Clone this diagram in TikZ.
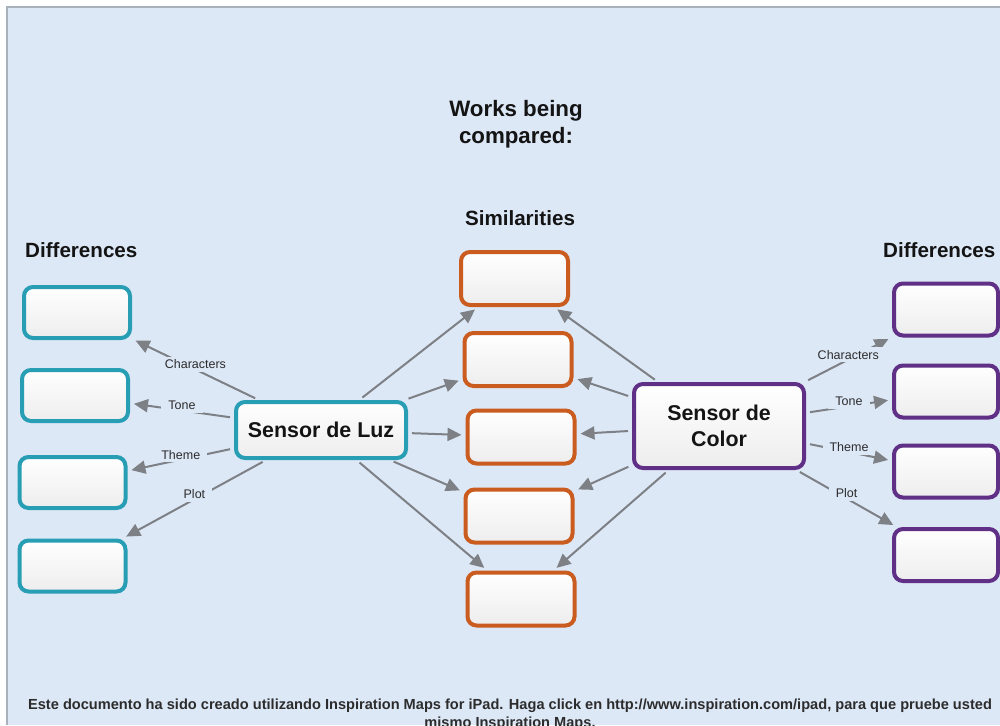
\documentclass[tikz,border=0pt]{standalone}
\usepackage{fontspec}
\setmainfont{Liberation Sans}
\usetikzlibrary{arrows.meta,shadows}

\definecolor{pagebg}{RGB}{221,232,247}
\definecolor{frameline}{RGB}{168,176,186}
\definecolor{luzteal}{RGB}{40,158,180}
\definecolor{simorange}{RGB}{203,92,32}
\definecolor{colpurple}{RGB}{96,48,134}
\definecolor{linkgray}{RGB}{125,128,132}
\definecolor{inkblack}{RGB}{20,20,20}

\begin{document}
\begin{tikzpicture}[x=1pt,y=-1pt,
  card/.style={draw, line width=4pt, rounded corners=9pt, inner sep=0pt,
    top color=white, bottom color=black!7, text=inkblack,
    drop shadow={opacity=0.18, shadow xshift=0pt, shadow yshift=-1.5pt}},
  diffL/.style={card, draw=luzteal, minimum width=106pt, minimum height=51pt},
  diffR/.style={card, draw=colpurple, minimum width=104pt, minimum height=52pt},
  simbox/.style={card, draw=simorange, minimum width=107pt, minimum height=53pt},
  hub/.style={card, font=\fontsize{21.4}{26}\selectfont\bfseries, align=center},
  heading/.style={font=\fontsize{20.6}{27}\selectfont\bfseries, text=inkblack, inner sep=0pt},
  link/.style={draw=linkgray, line width=2pt, shorten <=4pt, shorten >=4pt,
    -{Triangle[length=14pt,width=13pt]}},
  lab/.style={fill=pagebg, inner xsep=7pt, inner ysep=3pt, yshift=5pt, pos=0.5,
    font=\fontsize{12.5}{14}\selectfont, text=inkblack!90}]

% page with its frame
\clip (0,0) rectangle (1000,725);
\fill[white] (0,0) rectangle (1000,725);
\fill[pagebg] (7,7) rectangle (1000,725);
\draw[frameline, line width=1.2pt] (7,725) -- (7,7) -- (1000,7);

% headings
\node[heading, font=\fontsize{22.3}{27}\selectfont\bfseries, align=center] (title) at (516,124) {Works being\\compared:};
\node[heading, anchor=base] (simhead) at (520,225) {Similarities};
\node[heading, anchor=base west] (diffheadL) at (25,257) {Differences};
\node[heading, anchor=base west] (diffheadR) at (883,257) {Differences};

% left column
\node[diffL] (l1) at (77,312.5) {};
\node[diffL] (l2) at (75,395.5) {};
\node[diffL] (l3) at (72.5,482.5) {};
\node[diffL] (l4) at (72.5,566) {};

% middle column
\node[simbox] (c1) at (514.5,278.5) {};
\node[simbox] (c2) at (518,359.5) {};
\node[simbox] (c3) at (521,437) {};
\node[simbox] (c4) at (519,516) {};
\node[simbox] (c5) at (521,599) {};

% right column
\node[diffR] (r1) at (946,309.5) {};
\node[diffR] (r2) at (946,391.5) {};
\node[diffR] (r3) at (946,471.5) {};
\node[diffR] (r4) at (946,555) {};

% the two works
\node[hub, draw=luzteal, minimum width=170pt, minimum height=56pt] (luz) at (321,430) {Sensor de Luz};
\node[hub, draw=colpurple, minimum width=170pt, minimum height=84pt] (color) at (719,426) {Sensor de\\Color};

% differences of the first work
\draw[link] (luz) -- node[lab] {Characters} (l1);
\draw[link] (luz) -- node[lab] {Tone} (l2);
\draw[link] (luz) -- node[lab] {Theme} (l3);
\draw[link] (luz) -- node[lab] {Plot} (l4);

% differences of the second work
\draw[link] (color) -- node[lab] {Characters} (r1);
\draw[link] (color) -- node[lab] {Tone} (r2);
\draw[link] (color) -- node[lab] {Theme} (r3);
\draw[link] (color) -- node[lab] {Plot} (r4);

% similarities
\foreach \s in {c1,c2,c3,c4,c5} {
  \draw[link] (luz) -- (\s);
  \draw[link] (color) -- (\s);
}

% footer (second line runs off the page edge)
\node[font=\fontsize{14.6}{18}\selectfont\bfseries, text=inkblack!90, align=center,
  anchor=base, inner sep=0pt] (footer) at (510,727)
  {Este documento ha sido creado utilizando Inspiration Maps for iPad. Haga click en http://www.inspiration.com/ipad, para que pruebe usted\\mismo Inspiration Maps.};
\end{tikzpicture}
\end{document}
